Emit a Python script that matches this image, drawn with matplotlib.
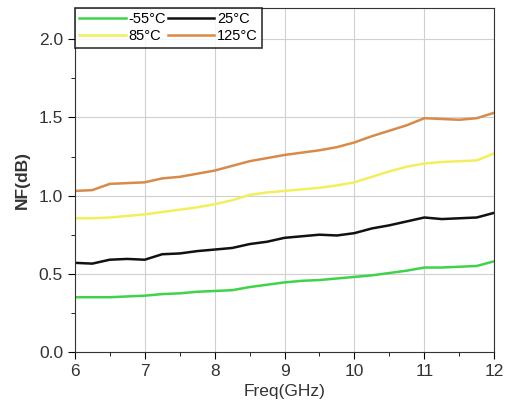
import numpy as np
import matplotlib.pyplot as plt

plt.rcParams['font.family'] = ['Liberation Sans', 'DejaVu Sans']

freq = [6.0, 6.25, 6.5, 6.75, 7.0, 7.25, 7.5, 7.75, 8.0, 8.25, 8.5, 8.75, 9.0,
        9.25, 9.5, 9.75, 10.0, 10.25, 10.5, 10.75, 11.0, 11.25, 11.5, 11.75, 12.0]

nf_m55 = [0.35, 0.35, 0.35, 0.355, 0.36, 0.37, 0.375, 0.385, 0.39, 0.395, 0.415, 0.43, 0.445,
          0.455, 0.46, 0.47, 0.48, 0.49, 0.505, 0.52, 0.54, 0.54, 0.545, 0.55, 0.58]
nf_25 = [0.57, 0.565, 0.59, 0.595, 0.59, 0.625, 0.63, 0.645, 0.655, 0.665, 0.69, 0.705, 0.73,
         0.74, 0.75, 0.745, 0.76, 0.79, 0.81, 0.835, 0.86, 0.85, 0.855, 0.86, 0.89]
nf_85 = [0.855, 0.855, 0.86, 0.87, 0.88, 0.895, 0.91, 0.925, 0.945, 0.97, 1.005, 1.02, 1.03,
         1.04, 1.05, 1.065, 1.085, 1.12, 1.155, 1.185, 1.205, 1.215, 1.22, 1.225, 1.27]
nf_125 = [1.03, 1.035, 1.075, 1.08, 1.085, 1.11, 1.12, 1.14, 1.16, 1.19, 1.22, 1.24, 1.26,
          1.275, 1.29, 1.31, 1.34, 1.38, 1.415, 1.45, 1.495, 1.49, 1.485, 1.495, 1.53]

series = [("-55°C", nf_m55, "#3fd34c"),
          ("25°C", nf_25, "#111111"),
          ("85°C", nf_85, "#f3ef5c"),
          ("125°C", nf_125, "#d98a48")]

fig = plt.figure(figsize=(5.09, 4.2), dpi=100)
ax = fig.add_axes([0.147, 0.162, 0.824, 0.819])

lines = []
for label, vals, col in series:
    ln, = ax.plot(freq, vals, color=col, lw=1.8, label=label)
    lines.append(ln)

ax.set_xlim(6, 12)
ax.set_ylim(0, 2.2)
ax.set_xticks(np.arange(6, 12.1, 1))
ax.set_xticks(np.arange(6.5, 12, 1), minor=True)
ax.set_yticks([0.0, 0.5, 1.0, 1.5, 2.0])
ax.set_yticks([0.25, 0.75, 1.25, 1.75], minor=True)
ax.yaxis.set_major_formatter(plt.FormatStrFormatter('%.1f'))
ax.grid(True, which='major', color='#d0d0d0', lw=0.8)
ax.tick_params(which='major', direction='out', length=5, labelsize=12.5, labelcolor='#333333')
ax.tick_params(which='minor', direction='out', length=3)
for s in ax.spines.values():
    s.set_color('#333333')

ax.set_xlabel("Freq(GHz)", fontsize=12.5, color='#333333', labelpad=4)
ax.set_ylabel("NF(dB)", fontsize=12.5, fontweight='bold', color='#333333', labelpad=6)

# legend fills column-wise, so reorder to get -55/25 on the first row
order = [0, 2, 1, 3]
leg = ax.legend([lines[i] for i in order], [series[i][0] for i in order],
                loc='upper left', ncol=2, fontsize=10.5, frameon=True, fancybox=False,
                edgecolor='black', handlelength=3.2, columnspacing=0.1, handletextpad=0.2,
                borderaxespad=0.0, borderpad=0.3, labelspacing=0.2)
leg.get_frame().set_linewidth(1.2)

fig.savefig("out.png", dpi=100)
